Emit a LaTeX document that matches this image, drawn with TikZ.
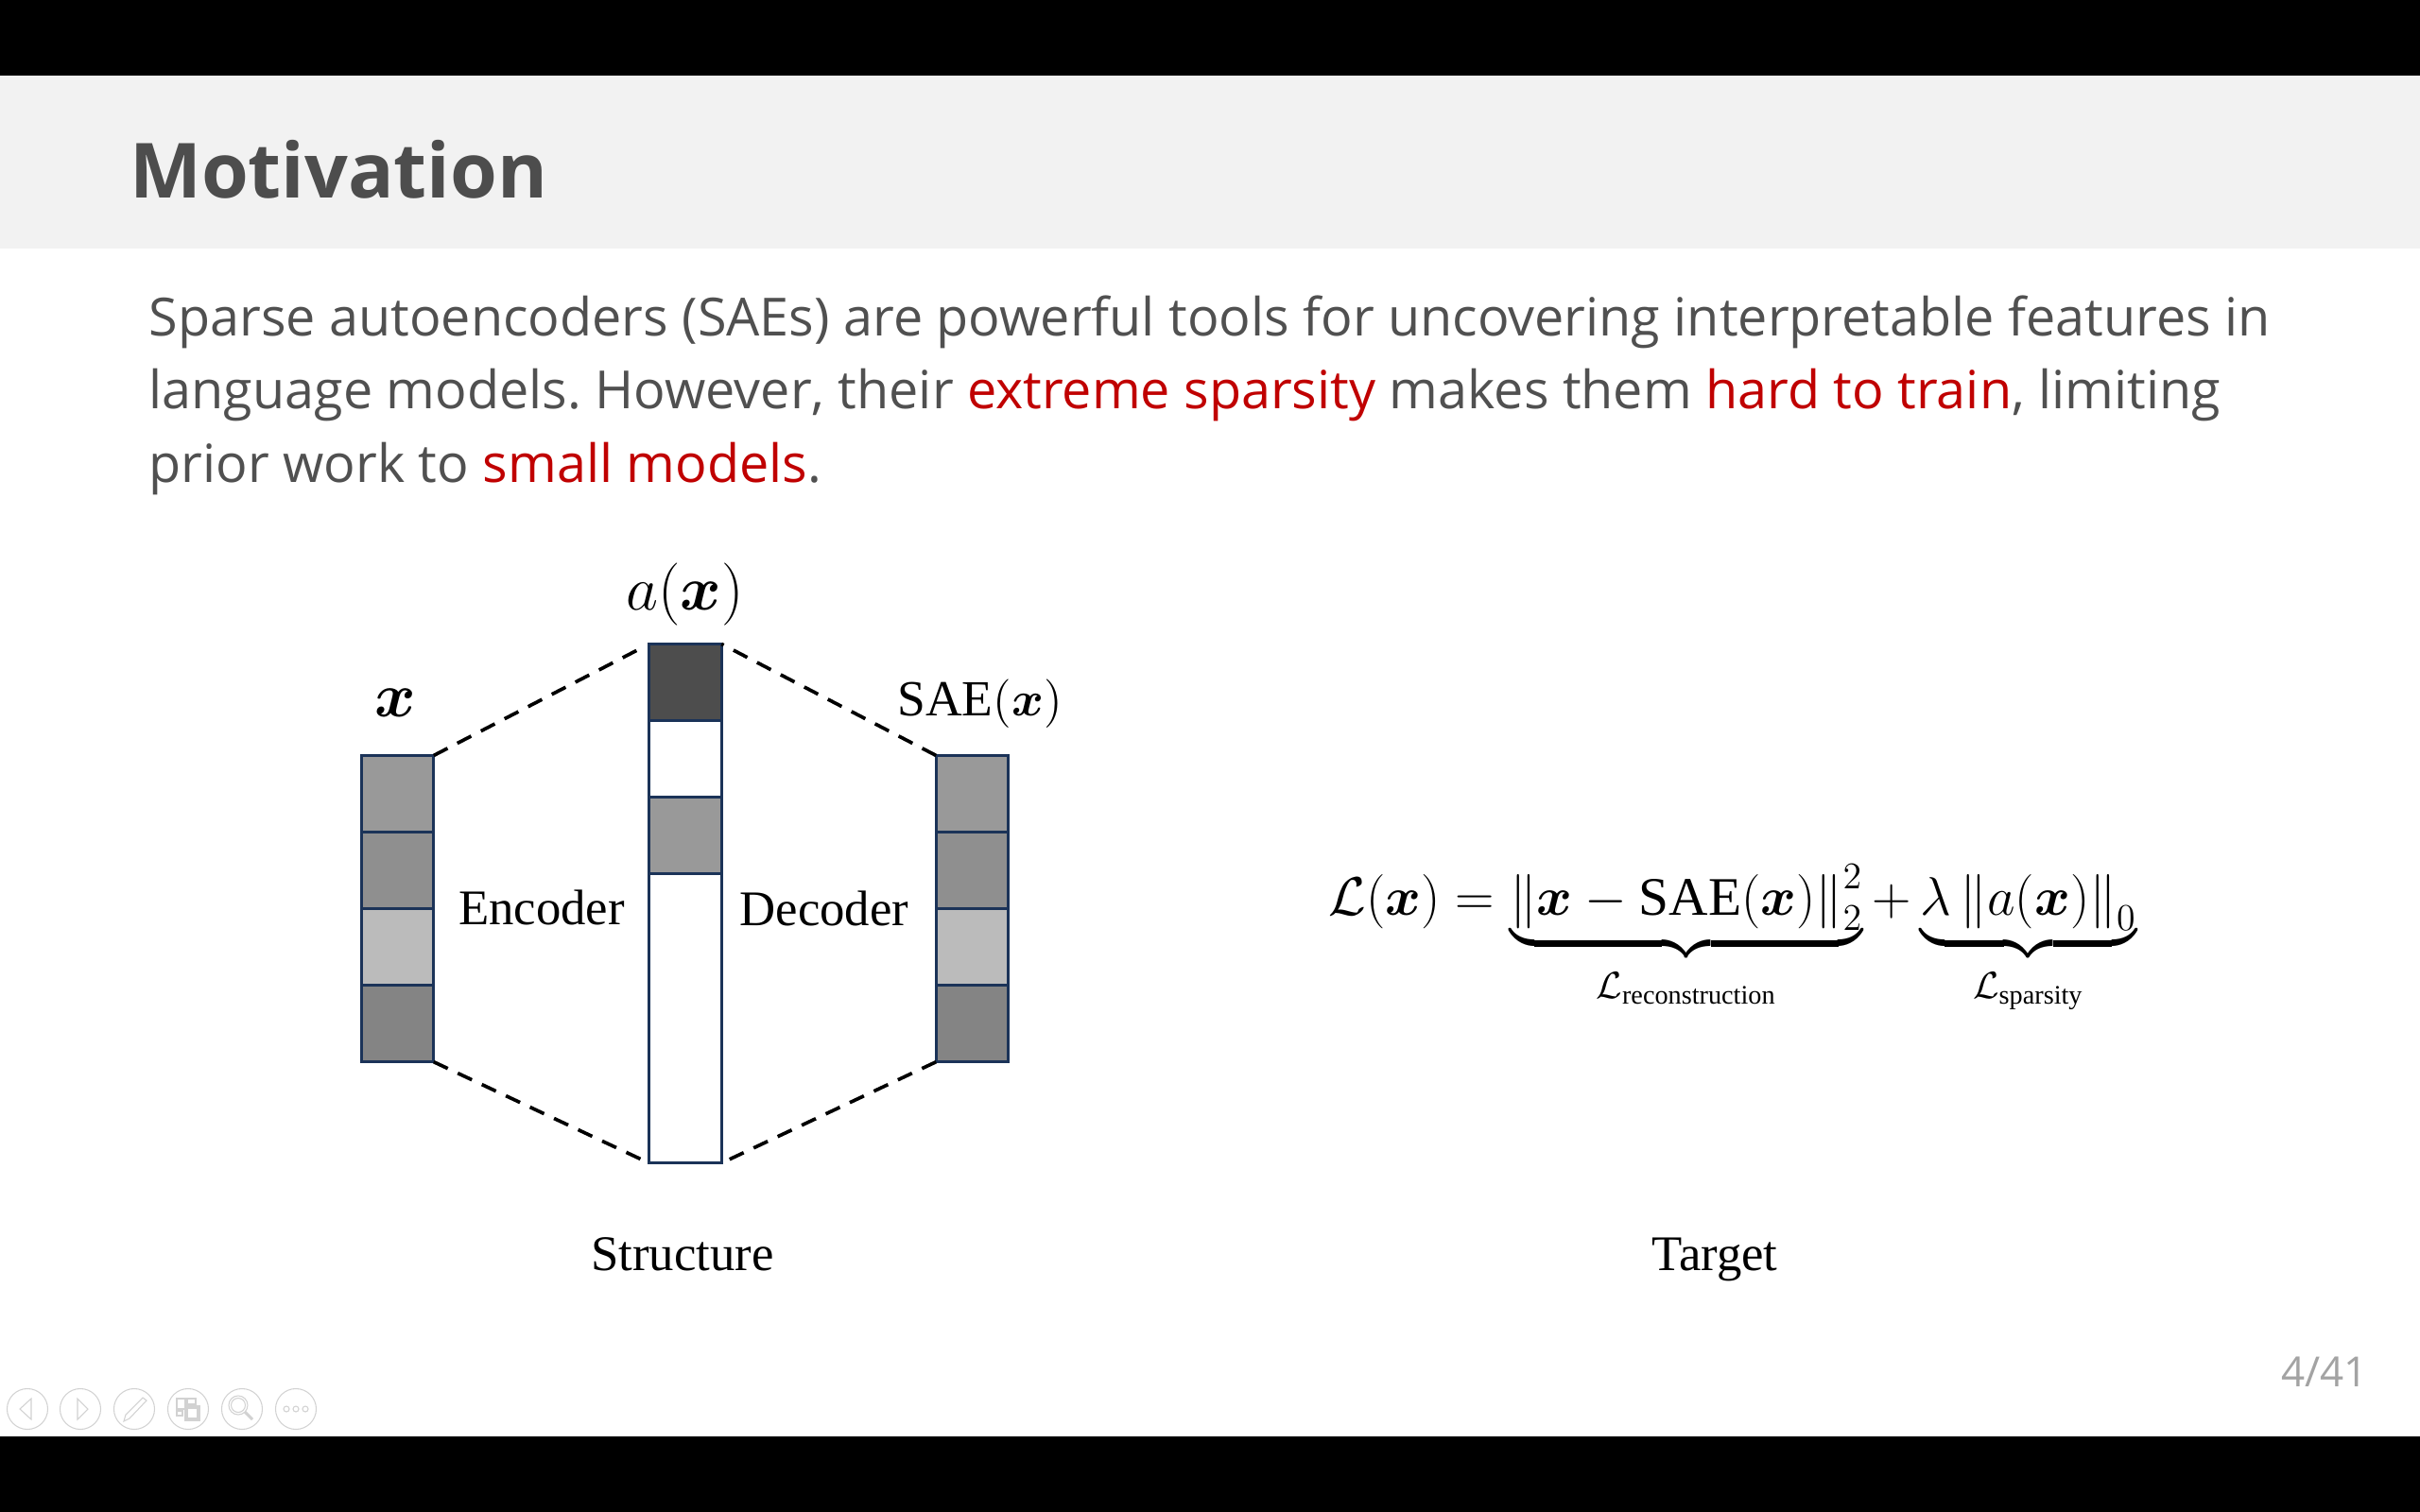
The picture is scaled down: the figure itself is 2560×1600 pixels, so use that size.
\documentclass[tikz,border=0pt]{standalone}
\usepackage{amsmath}
\usepackage{xcolor}
\usepackage{fontspec}
\setmainfont{Liberation Serif}
\newfontfamily\slidefont{Open Sans}
\DeclareMathSizes{17.28}{17.28}{12}{8.5}
\usepackage{tikz}
\usetikzlibrary{positioning}
\definecolor{navy}{HTML}{1B3358}
\definecolor{bk30}{HTML}{4D4D4D}
\definecolor{bk40}{HTML}{999999}
\definecolor{bk44}{HTML}{8F8F8F}
\definecolor{bk27}{HTML}{BBBBBB}
\definecolor{bk48}{HTML}{848484}
\definecolor{slidetext}{HTML}{505050}
\definecolor{slidered}{HTML}{C00000}
\definecolor{band}{HTML}{F2F2F2}
\definecolor{ctrl}{HTML}{D2D2D2}
\tikzset{
  cellbox/.style={
    rectangle, draw=navy, fill=#1, line width=0.85pt,
    minimum width=0.765cm, minimum height=0.81cm,
    inner sep=0pt, outer sep=0pt
  },
  cellbox/.default=white,
  dashlink/.style={
    dash pattern=on 4.7pt off 3.3pt, line width=1.05pt, black
  },
  mathlabel/.style={anchor=base, font=\fontsize{15}{18}\selectfont, inner sep=0pt},
  biglabel/.style={anchor=base, font=\fontsize{17.28}{21}\selectfont, inner sep=0pt, scale=1.088},
  bodyline/.style={
    anchor=base west, inner sep=0pt, text=slidetext,
    font=\slidefont\fontsize{15.84}{19}\selectfont\frenchspacing
  },
  ctrlring/.style={draw=ctrl, line width=0.3pt, fill=white},
  ctrlicon/.style={draw=ctrl, line width=0.3pt},
}
\begin{document}
\begin{tikzpicture}[x=0.01cm, y=-0.01cm]
  \useasboundingbox (0,0) rectangle (2560,1600);
  % slide frame
  \fill[black] (0,0) rectangle (2560,1600);
  \fill[white] (0,80) rectangle (2560,1520);
  \fill[band] (0,80) rectangle (2560,263);
  \node[anchor=west, inner sep=0pt, text=bk30, font=\slidefont\bfseries\fontsize{22.9}{28}\selectfont] (title) at (136.5,179) {Motivation};
  \node[bodyline] (line1) at (157,355) {Sparse autoencoders (SAEs) are powerful tools for uncovering interpretable features in};
  \node[bodyline] (line2) at (157,432) {language models. However, their \textcolor{slidered}{extreme sparsity} makes them \textcolor{slidered}{hard to train}, limiting};
  \node[bodyline] (line3) at (157,510) {prior work to \textcolor{slidered}{small models}.};
  % columns
  \node[cellbox=bk40] (x1) at (420.5,840) {};
  \node[cellbox=bk44, below=0pt of x1] (x2) {};
  \node[cellbox=bk27, below=0pt of x2] (x3) {};
  \node[cellbox=bk48, below=0pt of x3] (x4) {};
  \node[cellbox=bk30] (a1) at (725,722) {};
  \node[cellbox=white, below=0pt of a1] (a2) {};
  \node[cellbox=bk40, below=0pt of a2] (a3) {};
  \node[cellbox=white, below=0pt of a3, minimum height=3.06cm] (a4) {};
  \node[cellbox=bk40] (y1) at (1028.5,840) {};
  \node[cellbox=bk44, below=0pt of y1] (y2) {};
  \node[cellbox=bk27, below=0pt of y2] (y3) {};
  \node[cellbox=bk48, below=0pt of y3] (y4) {};
  \draw[dashlink, shorten >=0.09cm] (x1.north east) -- (a1.north west);
  \draw[dashlink, shorten >=0.09cm] (x4.south east) -- (a4.south west);
  \draw[dashlink] (y1.north west) -- (a1.north east);
  \draw[dashlink, shorten >=0.09cm] (y4.south west) -- (a4.south east);
  % labels
  \node[biglabel] (xlabel) at (418,758) {$\boldsymbol{x}$};
  \node[biglabel] (alabel) at (724.5,645) {$a(\boldsymbol{x})$};
  \node[mathlabel, scale=1.015] (ylabel) at (1036.5,757) {$\mathrm{SAE}(\boldsymbol{x})$};
  \node[mathlabel] (enc) at (573,978) {Encoder};
  \node[mathlabel] (dec) at (872,979) {Decoder};
  \node[mathlabel] (structure) at (722,1344) {Structure};
  \node[mathlabel] (target) at (1814,1344) {Target};
  \node[anchor=north, inner sep=0pt, scale=0.945, font=\fontsize{17.28}{21}\selectfont] (loss) at (1833,914.5) {$\mathcal{L}(\boldsymbol{x}) = \underbrace{\left\|\boldsymbol{x}-\mathrm{SAE}(\boldsymbol{x})\right\|_2^2}_{\rule{0pt}{10.5pt}\mathcal{L}_{\mathrm{reconstruction}}} + \underbrace{\lambda\left\|a(\boldsymbol{x})\right\|_0}_{\rule{0pt}{10.5pt}\mathcal{L}_{\mathrm{sparsity}}}$};
  % footer
  \node[inner sep=0pt, text=bk40!90, font=\slidefont\fontsize{12.5}{15}\selectfont] (page) at (2459,1452) {4/41};
  \foreach \cx in {29,85,142,199,256,313}
    \draw[ctrlring] (\cx,1491) circle (0.215cm);
  \draw[ctrlicon] (33,1480) -- (21,1491) -- (33,1502) -- cycle;
  \draw[ctrlicon] (82,1480) -- (93,1491) -- (82,1502) -- cycle;
  \draw[ctrlicon] (131,1504) -- (133,1497) -- (151,1479) -- (155,1482) -- (137,1501) -- cycle;
  \draw[ctrlicon] (187,1480) rectangle (196,1491) (198,1480) rectangle (207,1486) (187,1493) rectangle (193,1498) (196,1488) rectangle (211,1503) (198,1490) rectangle (209,1501);
  \draw[ctrlicon] (252,1487) circle (0.1cm) (252,1487) circle (0.075cm);
  \draw[ctrlicon, line width=0.9pt] (259,1494) -- (267,1502);
  \foreach \cx in {303,313,323}
    \draw[ctrlicon] (\cx,1491) circle (0.03cm);
\end{tikzpicture}
\end{document}
